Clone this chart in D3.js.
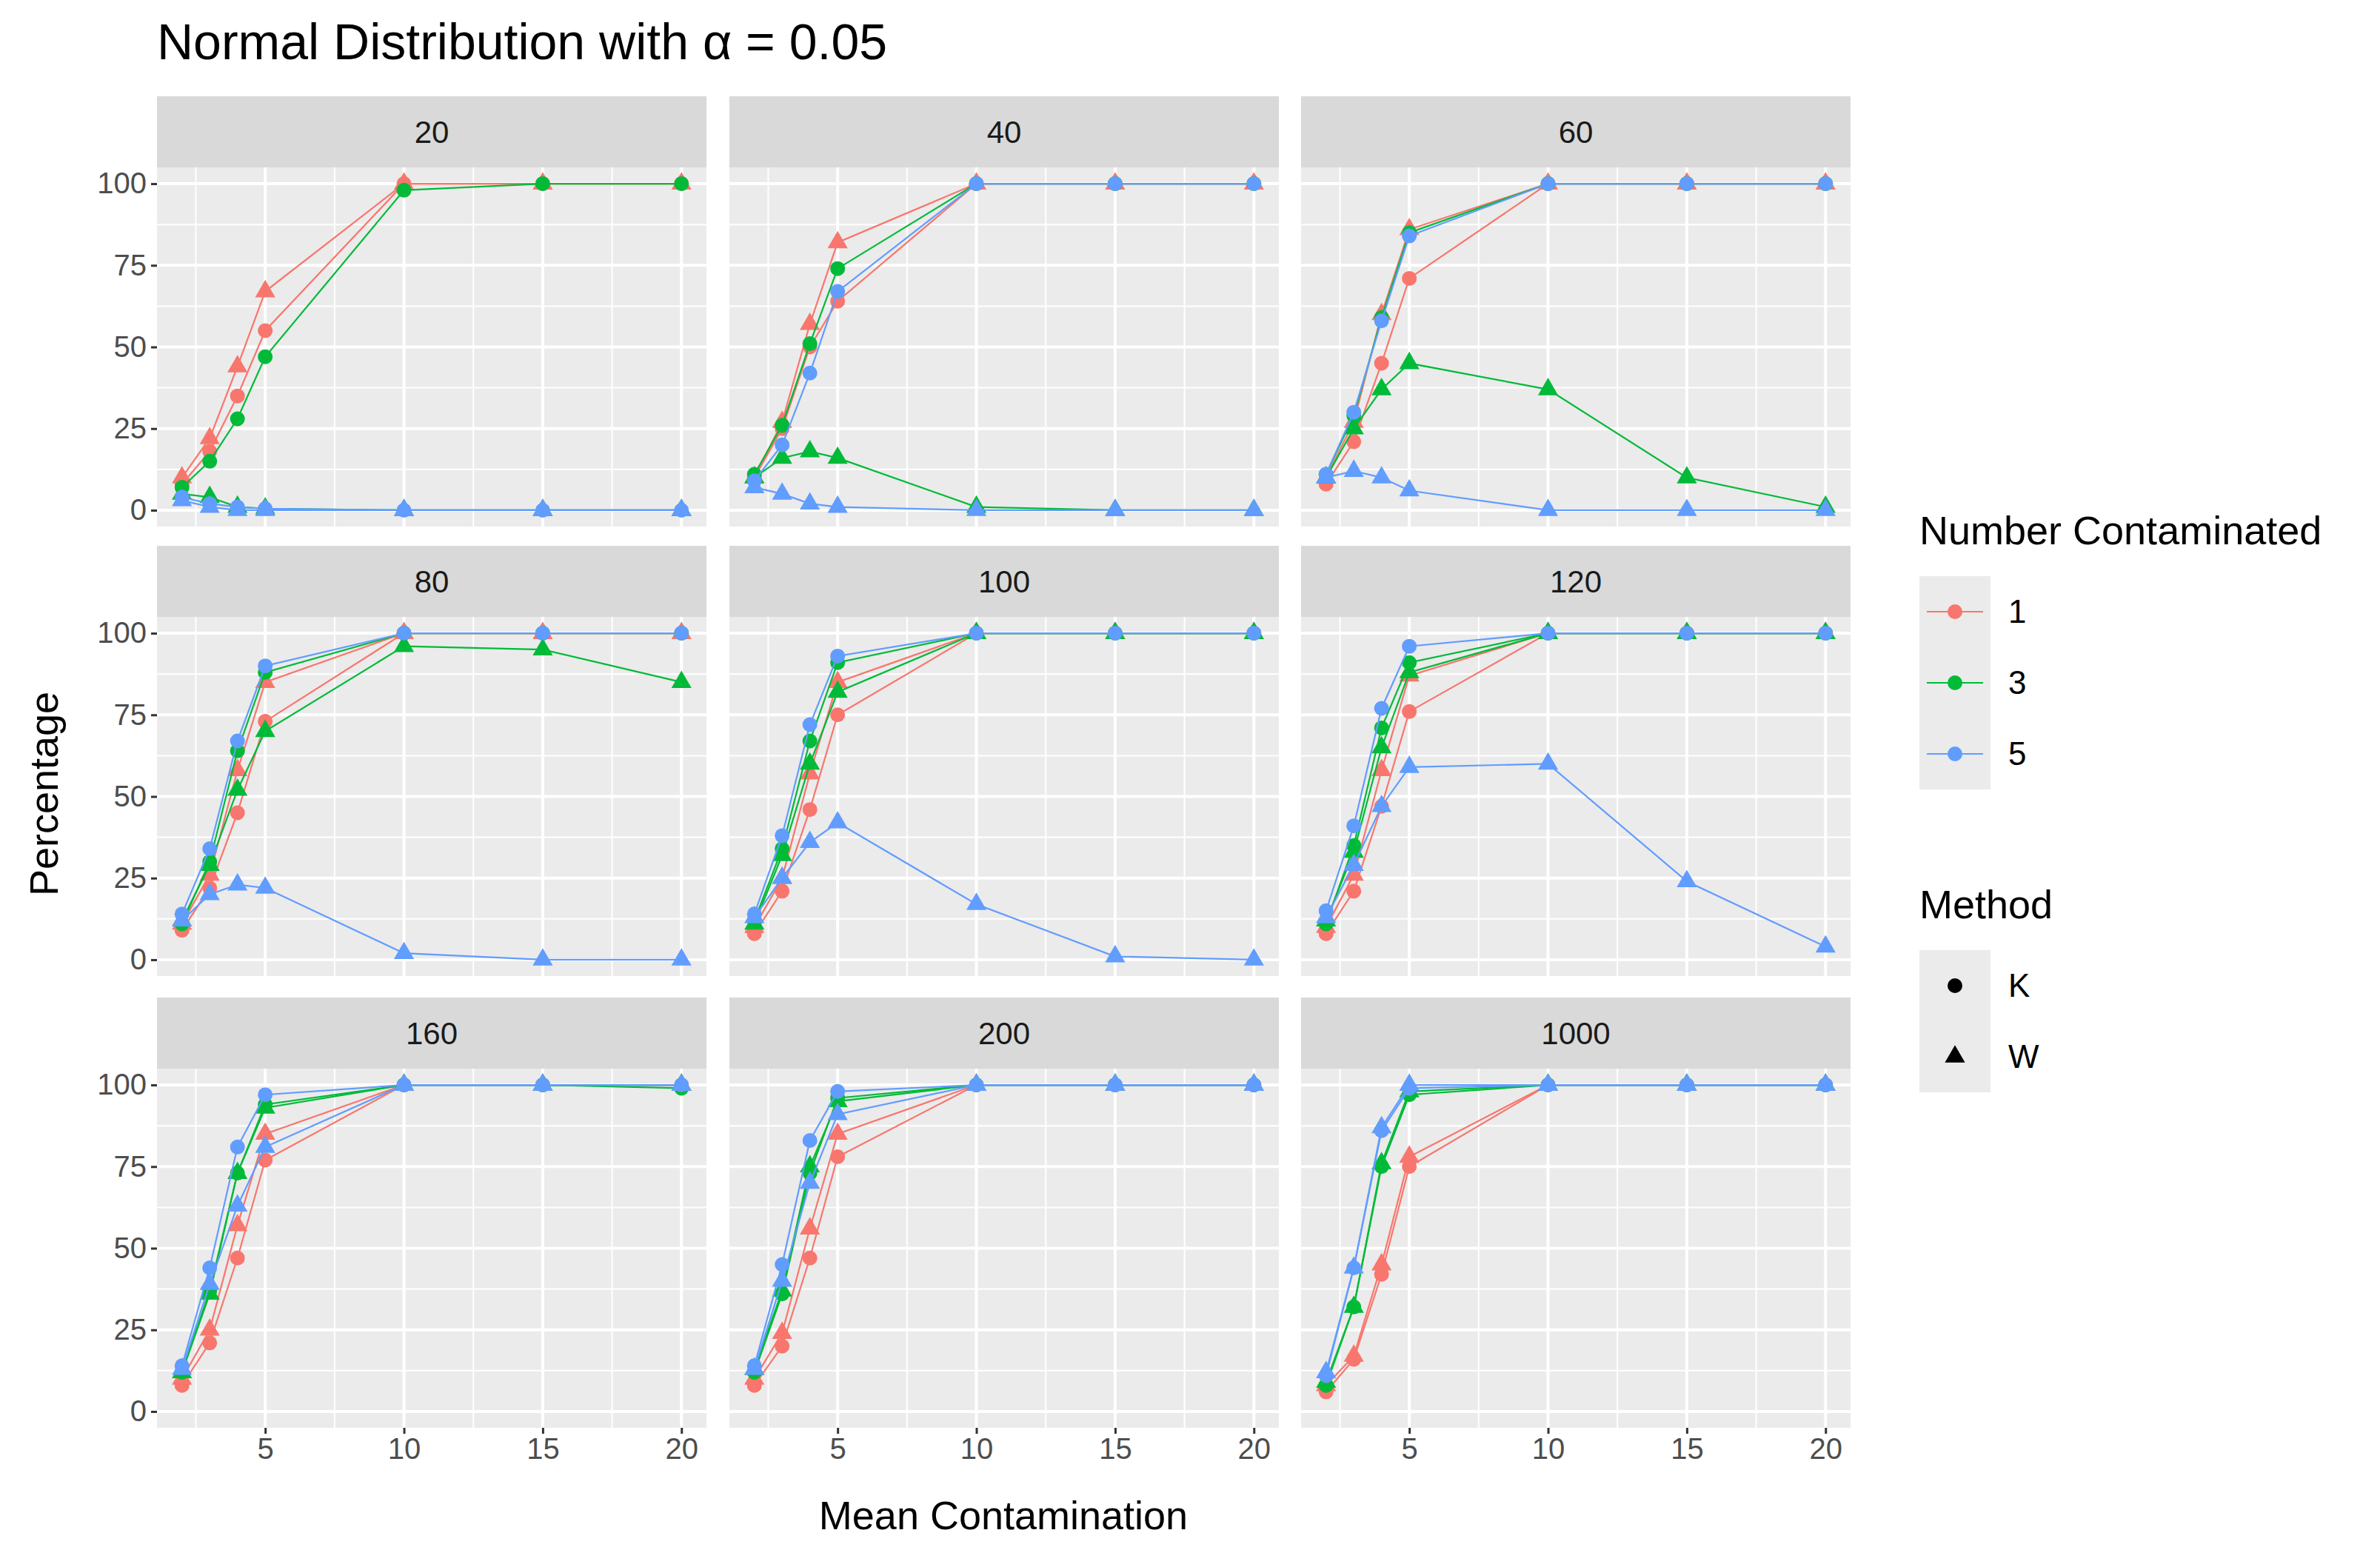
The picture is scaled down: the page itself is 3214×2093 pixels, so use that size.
<!DOCTYPE html>
<html>
<head>
<meta charset="utf-8">
<script src="https://cdn.jsdelivr.net/npm/d3@7"></script>
<style>
  body { margin: 0; background: #fff; }
  text { font-family: "Liberation Sans", Arial, sans-serif; }
</style>
</head>
<body>
<svg id="chart"></svg>
<script>
// data
const panels = ["20", "40", "60", "80", "100", "120", "160", "200", "1000"];
const means = [2, 3, 4, 5, 10, 15, 20];
const contaminated = ["1", "3", "5"];
const methods = ["K", "W"];

// values[panel][method+contaminated] at means
const values = {
  "20": {
    K1: [8, 18, 35, 55, 100, 100, 100], W1: [10, 22, 44, 67, 100, 100, 100],
    K3: [7, 15, 28, 47, 98, 100, 100], W3: [5, 4, 1, 0.5, 0, 0, 0],
    K5: [4, 2, 1, 0.5, 0, 0, 0], W5: [3, 1, 0, 0, 0, 0, 0]
  },
  "40": {
    K1: [10, 25, 50, 64, 100, 100, 100], W1: [10, 27, 57, 82, 100, 100, 100],
    K3: [11, 26, 51, 74, 100, 100, 100], W3: [10, 16, 18, 16, 1, 0, 0],
    K5: [9, 20, 42, 67, 100, 100, 100], W5: [7, 5, 2, 1, 0, 0, 0]
  },
  "60": {
    K1: [8, 21, 45, 71, 100, 100, 100], W1: [10, 27, 60, 86, 100, 100, 100],
    K3: [11, 29, 59, 85, 100, 100, 100], W3: [10, 25, 37, 45, 37, 10, 1],
    K5: [11, 30, 58, 84, 100, 100, 100], W5: [10, 12, 10, 6, 0, 0, 0]
  },
  "80": {
    K1: [9, 22, 45, 73, 100, 100, 100], W1: [11, 26, 58, 85, 100, 100, 100],
    K3: [11, 30, 64, 88, 100, 100, 100], W3: [12, 29, 52, 70, 96, 95, 85],
    K5: [14, 34, 67, 90, 100, 100, 100], W5: [12, 20, 23, 22, 2, 0, 0]
  },
  "100": {
    K1: [8, 21, 46, 75, 100, 100, 100], W1: [10, 25, 57, 85, 100, 100, 100],
    K3: [12, 34, 67, 91, 100, 100, 100], W3: [11, 32, 60, 82, 100, 100, 100],
    K5: [14, 38, 72, 93, 100, 100, 100], W5: [13, 25, 36, 42, 17, 1, 0]
  },
  "120": {
    K1: [8, 21, 47, 76, 100, 100, 100], W1: [10, 26, 58, 87, 100, 100, 100],
    K3: [11, 35, 71, 91, 100, 100, 100], W3: [12, 33, 65, 88, 100, 100, 100],
    K5: [15, 41, 77, 96, 100, 100, 100], W5: [13, 29, 47, 59, 60, 24, 4]
  },
  "160": {
    K1: [8, 21, 47, 77, 100, 100, 100], W1: [10, 25, 57, 85, 100, 100, 100],
    K3: [12, 37, 73, 94, 100, 100, 99], W3: [12, 36, 73, 93, 100, 100, 100],
    K5: [14, 44, 81, 97, 100, 100, 100], W5: [13, 39, 63, 81, 100, 100, 100]
  },
  "200": {
    K1: [8, 20, 47, 78, 100, 100, 100], W1: [10, 24, 56, 85, 100, 100, 100],
    K3: [12, 36, 73, 96, 100, 100, 100], W3: [13, 37, 75, 95, 100, 100, 100],
    K5: [14, 45, 83, 98, 100, 100, 100], W5: [13, 40, 70, 91, 100, 100, 100]
  },
  "1000": {
    K1: [6, 16, 42, 75, 100, 100, 100], W1: [8, 17, 45, 78, 100, 100, 100],
    K3: [8, 32, 75, 97, 100, 100, 100], W3: [9, 32, 76, 98, 100, 100, 100],
    K5: [11, 44, 86, 99, 100, 100, 100], W5: [12, 44, 87, 100, 100, 100, 100]
  }
};

const xTicks = [5, 10, 15, 20];
const yTicks = [0, 25, 50, 75, 100];

const W = 3214, H = 2093;
const svg = d3.select("#chart").attr("width", W).attr("height", H);

const color = d3.scaleOrdinal().domain(contaminated).range(["#F8766D", "#00BA38", "#619CFF"]);

const colX = [212, 985, 1757];
const rowY = [130, 737, 1347];
const pw = 742, ph = 485, stripH = 96;

const x = d3.scaleLinear().domain([1.1, 20.9]).range([0, pw]);
const y = d3.scaleLinear().domain([-5, 105]).range([ph, 0]);

// title
svg.append("text").attr("x", 212).attr("y", 80)
  .attr("font-size", 68).attr("fill", "#000")
  .text("Normal Distribution with α = 0.05");

const tri = d3.symbol().type(d3.symbolTriangle).size(320);

panels.forEach(function (p, i) {
  const cx = colX[i % 3], cy = rowY[Math.floor(i / 3)];
  const g = svg.append("g").attr("transform", `translate(${cx},${cy})`);

  // strip
  g.append("rect").attr("width", pw).attr("height", stripH).attr("fill", "#D9D9D9");
  g.append("text").attr("x", pw / 2).attr("y", stripH / 2 + 15)
    .attr("text-anchor", "middle").attr("font-size", 42).attr("fill", "#1A1A1A").text(p);

  const pg = g.append("g").attr("transform", `translate(0,${stripH})`);
  pg.append("rect").attr("width", pw).attr("height", ph).attr("fill", "#EBEBEB");

  // minor grid
  [2.5, 7.5, 12.5, 17.5].forEach(function (v) {
    pg.append("line").attr("x1", x(v)).attr("x2", x(v)).attr("y1", 0).attr("y2", ph)
      .attr("stroke", "#fff").attr("stroke-width", 2);
  });
  [12.5, 37.5, 62.5, 87.5].forEach(function (v) {
    pg.append("line").attr("y1", y(v)).attr("y2", y(v)).attr("x1", 0).attr("x2", pw)
      .attr("stroke", "#fff").attr("stroke-width", 2);
  });
  // major grid
  xTicks.forEach(function (v) {
    pg.append("line").attr("x1", x(v)).attr("x2", x(v)).attr("y1", 0).attr("y2", ph)
      .attr("stroke", "#fff").attr("stroke-width", 4);
  });
  yTicks.forEach(function (v) {
    pg.append("line").attr("y1", y(v)).attr("y2", y(v)).attr("x1", 0).attr("x2", pw)
      .attr("stroke", "#fff").attr("stroke-width", 4);
  });

  // y axis on left column
  if (i % 3 === 0) {
    const ya = pg.append("g").call(d3.axisLeft(y).tickValues(yTicks).tickSize(8).tickPadding(6));
    ya.select(".domain").remove();
    ya.selectAll("line").attr("stroke", "#333").attr("stroke-width", 3);
    ya.selectAll("text").attr("font-size", 40).attr("fill", "#4D4D4D")
      .style("font-family", "Liberation Sans, Arial, sans-serif");
  }
  // x axis on bottom row
  if (i >= 6) {
    const xa = pg.append("g").attr("transform", `translate(0,${ph})`)
      .call(d3.axisBottom(x).tickValues(xTicks).tickSize(8).tickPadding(6));
    xa.select(".domain").remove();
    xa.selectAll("line").attr("stroke", "#333").attr("stroke-width", 3);
    xa.selectAll("text").attr("font-size", 40).attr("fill", "#4D4D4D")
      .style("font-family", "Liberation Sans, Arial, sans-serif");
  }

  const line = d3.line().x(function (d) { return x(d[0]); }).y(function (d) { return y(d[1]); });

  contaminated.forEach(function (c) {
    methods.forEach(function (m) {
      const pts = means.map(function (mv, k) { return [mv, values[p][m + c][k]]; });
      pg.append("path").datum(pts).attr("d", line)
        .attr("fill", "none").attr("stroke", color(c)).attr("stroke-width", 2.2);
      pts.forEach(function (d) {
        if (m === "K") {
          pg.append("circle").attr("cx", x(d[0])).attr("cy", y(d[1])).attr("r", 10)
            .attr("fill", color(c));
        } else {
          pg.append("path").attr("d", tri)
            .attr("transform", `translate(${x(d[0])},${y(d[1])})`).attr("fill", color(c));
        }
      });
    });
  });
});

// axis titles
svg.append("text").attr("x", 1355).attr("y", 2065).attr("text-anchor", "middle")
  .attr("font-size", 54).attr("fill", "#000").text("Mean Contamination");
svg.append("text").attr("transform", "translate(78,1072) rotate(-90)").attr("text-anchor", "middle")
  .attr("font-size", 54).attr("fill", "#000").text("Percentage");

// legends
const lx = 2592;
svg.append("text").attr("x", lx).attr("y", 735).attr("font-size", 54).attr("fill", "#000")
  .text("Number Contaminated");
contaminated.forEach(function (c, k) {
  const ky = 778 + k * 96;
  svg.append("rect").attr("x", lx).attr("y", ky).attr("width", 96).attr("height", 96).attr("fill", "#EBEBEB");
  svg.append("line").attr("x1", lx + 10).attr("x2", lx + 86).attr("y1", ky + 48).attr("y2", ky + 48)
    .attr("stroke", color(c)).attr("stroke-width", 2.2);
  svg.append("circle").attr("cx", lx + 48).attr("cy", ky + 48).attr("r", 10).attr("fill", color(c));
  svg.append("text").attr("x", lx + 120).attr("y", ky + 63).attr("font-size", 44).attr("fill", "#000").text(c);
});

svg.append("text").attr("x", lx).attr("y", 1240).attr("font-size", 54).attr("fill", "#000").text("Method");
methods.forEach(function (m, k) {
  const ky = 1283 + k * 96;
  svg.append("rect").attr("x", lx).attr("y", ky).attr("width", 96).attr("height", 96).attr("fill", "#EBEBEB");
  if (m === "K") {
    svg.append("circle").attr("cx", lx + 48).attr("cy", ky + 48).attr("r", 10).attr("fill", "#000");
  } else {
    svg.append("path").attr("d", tri).attr("transform", `translate(${lx + 48},${ky + 48})`).attr("fill", "#000");
  }
  svg.append("text").attr("x", lx + 120).attr("y", ky + 63).attr("font-size", 44).attr("fill", "#000").text(m);
});
</script>
</body>
</html>
